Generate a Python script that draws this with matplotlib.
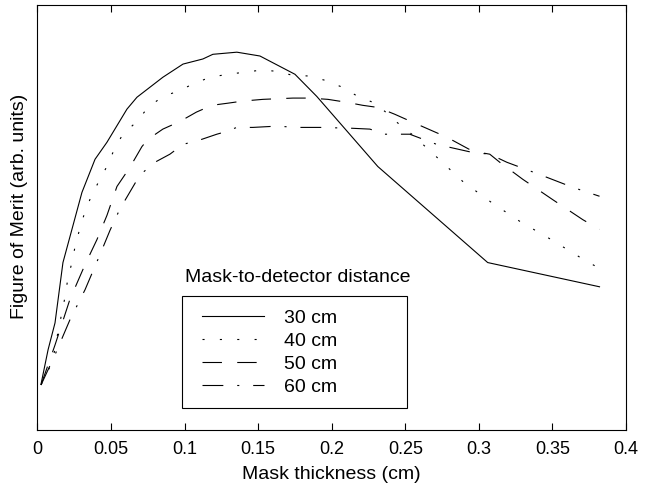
import numpy as np
import matplotlib
matplotlib.use("Agg")
import matplotlib.pyplot as plt
from matplotlib.patches import Rectangle

plt.rcParams['font.family'] = ['Liberation Sans', 'DejaVu Sans']
plt.rcParams['lines.scale_dashes'] = False

# 30 cm
x30 = [0.0024, 0.0072, 0.0119, 0.0173, 0.0234, 0.0302, 0.0391, 0.0472, 0.0608, 0.0676,
       0.0852, 0.0989, 0.1124, 0.1192, 0.1355, 0.1512, 0.175, 0.1898, 0.2313, 0.306, 0.382]
y30 = [0.108, 0.189, 0.252, 0.394, 0.472, 0.559, 0.637, 0.677, 0.755, 0.783,
       0.830, 0.861, 0.873, 0.884, 0.889, 0.880, 0.837, 0.785, 0.620, 0.394, 0.337]
# 40 cm
x40 = [0.0024, 0.0085, 0.0119, 0.0139, 0.0166, 0.0187, 0.0207, 0.0234, 0.0255, 0.0289,
       0.0323, 0.0370, 0.0425, 0.0479, 0.0527, 0.0581,
       0.0676, 0.0751, 0.0852, 0.0955, 0.1056, 0.1172, 0.1294, 0.141, 0.1525, 0.1627,
       0.1729, 0.1838, 0.1953, 0.2069, 0.2177, 0.228, 0.236, 0.245, 0.2544, 0.2714,
       0.289, 0.3087, 0.3278, 0.3482, 0.3689, 0.381]
y40 = [0.106, 0.149, 0.189, 0.231, 0.276, 0.313, 0.358, 0.394, 0.431, 0.476,
       0.514, 0.554, 0.590, 0.625, 0.665, 0.696,
       0.726, 0.759, 0.785, 0.797, 0.814, 0.830, 0.837, 0.842, 0.847, 0.844,
       0.835, 0.833, 0.823, 0.807, 0.785, 0.771, 0.750, 0.722, 0.696, 0.642,
       0.585, 0.535, 0.491, 0.450, 0.406, 0.382]
# 50 cm
x50 = [0.0024, 0.0119, 0.022, 0.0323, 0.0404, 0.0472, 0.054, 0.0628, 0.071, 0.0751,
       0.0852, 0.0968, 0.108, 0.1185, 0.1294, 0.1396, 0.1532, 0.1736, 0.1851, 0.1974,
       0.2103, 0.221, 0.2313, 0.2428, 0.2551, 0.2782, 0.2958, 0.3074, 0.3142, 0.3298,
       0.3502, 0.3706, 0.382]
y50 = [0.106, 0.200, 0.307, 0.389, 0.448, 0.505, 0.573, 0.618, 0.667, 0.684,
       0.708, 0.726, 0.748, 0.764, 0.769, 0.774, 0.778, 0.781, 0.781, 0.778,
       0.771, 0.764, 0.759, 0.743, 0.724, 0.689, 0.656, 0.649, 0.630, 0.590,
       0.542, 0.495, 0.472]
# 60 cm
x60 = [0.0024, 0.0119, 0.022, 0.0323, 0.0425, 0.0493, 0.056, 0.0628, 0.0696, 0.0798,
       0.09, 0.0989, 0.1117, 0.1219, 0.126, 0.1355, 0.1464, 0.1627, 0.1763, 0.1919,
       0.2137, 0.2259, 0.2361, 0.253, 0.2714, 0.2958, 0.3074, 0.319, 0.3414, 0.3638,
       0.382]
y60 = [0.106, 0.177, 0.259, 0.330, 0.413, 0.470, 0.520, 0.560, 0.600, 0.630,
       0.649, 0.672, 0.684, 0.696, 0.700, 0.712, 0.712, 0.715, 0.712, 0.712,
       0.710, 0.708, 0.696, 0.696, 0.672, 0.653, 0.649, 0.630, 0.601, 0.571,
       0.550]

labels = ['30 cm', '40 cm', '50 cm', '60 cm']
legend_title = 'Mask-to-detector distance'
xticks = [0, 0.05, 0.1, 0.15, 0.2, 0.25, 0.3, 0.35, 0.4]
xticklabels = ['0', '0.05', '0.1', '0.15', '0.2', '0.25', '0.3', '0.35', '0.4']

fig = plt.figure(figsize=(6.51, 4.86), dpi=100)
ax = fig.add_axes([0.0576, 0.1152, 0.9040, 0.8745])

lw = 0.8
ax.plot(x30, y30, color='black', lw=lw, linestyle='-', label=labels[0])
ax.plot(x40, y40, color='black', lw=lw, linestyle=(0, (1.5, 11)), label=labels[1])
ax.plot(x50, y50, color='black', lw=lw, linestyle=(0, (14, 11)), label=labels[2])
ax.plot(x60, y60, color='black', lw=lw, linestyle=(0, (15, 10, 1.5, 10)), label=labels[3])

ax.set_xlim(0, 0.4)
ax.set_ylim(0, 1)
ax.set_xticks(xticks)
ax.set_xticklabels(xticklabels)
ax.set_yticks([])
ax.tick_params(axis='x', direction='in', top=True, labelsize=13, length=5, pad=8)
for s in ax.spines.values():
    s.set_linewidth(0.8)

ax.set_xlabel('Mask thickness (cm)', fontsize=14)
ax.xaxis.set_label_coords(0.5, -0.085)
ax.set_ylabel('Figure of Merit (arb. units)', fontsize=14)
ax.yaxis.set_label_coords(-0.016, 0.527)

# legend: title sits above the box
fig.text(298 / 651, 1 - 277 / 486, legend_title, fontsize=14, ha='center', va='center')
fig.add_artist(Rectangle((182 / 651, 1 - 408 / 486), 225 / 651, 112 / 486,
                         transform=fig.transFigure, fill=False, lw=0.8, color='black'))
leg = ax.legend(loc='upper left', bbox_to_anchor=(202 / 651, 1 - 309 / 486),
                bbox_transform=fig.transFigure, frameon=False, fontsize=14,
                handlelength=3.2, handletextpad=1.0, labelspacing=0.28,
                borderpad=0, borderaxespad=0)

fig.savefig('out.png', dpi=100)
